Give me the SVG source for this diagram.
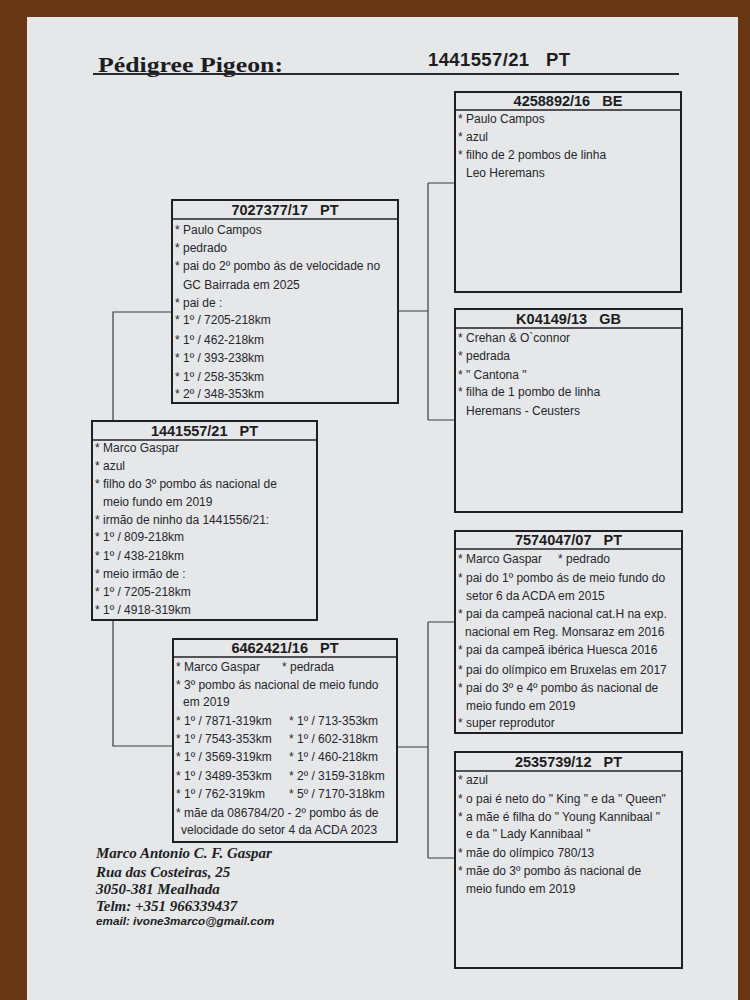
<svg xmlns="http://www.w3.org/2000/svg" width="750" height="1000" viewBox="0 0 750 1000">
<style>
.box{fill:none;stroke:#1f1f24;stroke-width:2}
.hd{stroke:#1f1f24;stroke-width:1.6}
.ht{font-family:"Liberation Sans",Arial,sans-serif;font-weight:bold;font-size:14.5px;fill:#1c1c20;text-anchor:middle}
.t{font-family:"Liberation Sans",Arial,sans-serif;font-size:12px;fill:#26262b}
.con{fill:none;stroke:#3a3a3f;stroke-width:1.2}
.addr{font-family:"Liberation Serif","Times New Roman",serif;font-weight:bold;font-style:italic;font-size:15px;fill:#1e1e22}
.mail{font-family:"Liberation Sans",Arial,sans-serif;font-weight:bold;font-style:italic;font-size:11.7px;fill:#1e1e22}
</style>
<rect x="0" y="0" width="750" height="1000" fill="#683814"/>
<rect x="27" y="17" width="711" height="990" fill="#e5e7e9"/>

<g id="title">
<text x="98" y="72" font-family="'Liberation Serif','Times New Roman',serif" font-weight="bold" font-size="21" fill="#1e1e22" textLength="185" lengthAdjust="spacingAndGlyphs">Pédigree Pigeon:</text>
<text x="428" y="66" xml:space="preserve" font-family="'Liberation Sans',Arial,sans-serif" font-weight="bold" font-size="18.5" fill="#1e1e22" textLength="142" lengthAdjust="spacing">1441557/21   PT</text>
<line x1="93" y1="74" x2="679" y2="74" stroke="#2a2a2e" stroke-width="2"/>
</g>

<g id="connectors">
<path class="con" d="M172 312 H113 V421 M113 620 V746 H173"/>
<path class="con" d="M398 311 H428 M428 183 V420 M428 183 H455 M428 420 H455"/>
<path class="con" d="M397 747 H428 M428 622 V858 M428 622 H455 M428 858 H455"/>
</g>

<g id="node-1441557">
<rect class="box" x="92" y="421" width="225" height="199"/>
<line class="hd" x1="92" y1="440" x2="317" y2="440"/>
<text class="ht" x="204.5" y="436" xml:space="preserve">1441557/21   PT</text>
<text class="t" x="95" y="452">* Marco Gaspar</text>
<text class="t" x="95" y="470">* azul</text>
<text class="t" x="95" y="488">* filho do 3º pombo ás nacional de</text>
<text class="t" x="103" y="506">meio fundo em 2019</text>
<text class="t" x="95" y="524">* irmão de ninho da 1441556/21:</text>
<text class="t" x="95" y="541">* 1º / 809-218km</text>
<text class="t" x="95" y="560">* 1º / 438-218km</text>
<text class="t" x="95" y="578">* meio irmão de :</text>
<text class="t" x="95" y="596">* 1º / 7205-218km</text>
<text class="t" x="95" y="614">* 1º / 4918-319km</text>
</g>

<g id="node-7027377">
<rect class="box" x="172" y="200" width="226" height="203"/>
<line class="hd" x1="172" y1="219" x2="398" y2="219"/>
<text class="ht" x="285" y="215" xml:space="preserve">7027377/17   PT</text>
<text class="t" x="175" y="234">* Paulo Campos</text>
<text class="t" x="175" y="252">* pedrado</text>
<text class="t" x="175" y="270">* pai do 2º pombo ás de velocidade no</text>
<text class="t" x="183" y="289">GC Bairrada em 2025</text>
<text class="t" x="175" y="307">* pai de :</text>
<text class="t" x="175" y="324">* 1º / 7205-218km</text>
<text class="t" x="175" y="344">* 1º / 462-218km</text>
<text class="t" x="175" y="362">* 1º / 393-238km</text>
<text class="t" x="175" y="381">* 1º / 258-353km</text>
<text class="t" x="175" y="398">* 2º / 348-353km</text>
</g>

<g id="node-6462421">
<rect class="box" x="173" y="639" width="224" height="203"/>
<line class="hd" x1="173" y1="657" x2="397" y2="657"/>
<text class="ht" x="285" y="653" xml:space="preserve">6462421/16   PT</text>
<text class="t" x="176" y="671">* Marco Gaspar</text>
<text class="t" x="282" y="671">* pedrada</text>
<text class="t" x="176" y="689">* 3º pombo ás nacional de meio fundo</text>
<text class="t" x="183" y="706">em 2019</text>
<text class="t" x="176" y="725">* 1º / 7871-319km</text>
<text class="t" x="289" y="725">* 1º / 713-353km</text>
<text class="t" x="176" y="743">* 1º / 7543-353km</text>
<text class="t" x="289" y="743">* 1º / 602-318km</text>
<text class="t" x="176" y="761">* 1º / 3569-319km</text>
<text class="t" x="289" y="761">* 1º / 460-218km</text>
<text class="t" x="176" y="780">* 1º / 3489-353km</text>
<text class="t" x="289" y="780">* 2º / 3159-318km</text>
<text class="t" x="176" y="798">* 1º / 762-319km</text>
<text class="t" x="289" y="798">* 5º / 7170-318km</text>
<text class="t" x="176" y="817">* mãe da 086784/20 - 2º pombo ás de</text>
<text class="t" x="181" y="834">velocidade do setor 4 da ACDA 2023</text>
</g>

<g id="node-4258892">
<rect class="box" x="455" y="92" width="226" height="200"/>
<line class="hd" x1="455" y1="110" x2="681" y2="110"/>
<text class="ht" x="568" y="106" xml:space="preserve">4258892/16   BE</text>
<text class="t" x="458" y="123">* Paulo Campos</text>
<text class="t" x="458" y="141">* azul</text>
<text class="t" x="458" y="159">* filho de 2 pombos de linha</text>
<text class="t" x="466" y="177">Leo Heremans</text>
</g>

<g id="node-K04149">
<rect class="box" x="455" y="309" width="227" height="203"/>
<line class="hd" x1="455" y1="328" x2="682" y2="328"/>
<text class="ht" x="568.5" y="324" xml:space="preserve">K04149/13   GB</text>
<text class="t" x="458" y="342">* Crehan &amp; O`connor</text>
<text class="t" x="458" y="360">* pedrada</text>
<text class="t" x="458" y="379">* " Cantona "</text>
<text class="t" x="458" y="396">* filha de 1 pombo de linha</text>
<text class="t" x="466" y="415">Heremans - Ceusters</text>
</g>

<g id="node-7574047">
<rect class="box" x="455" y="531" width="227" height="202"/>
<line class="hd" x1="455" y1="549" x2="682" y2="549"/>
<text class="ht" x="568.5" y="545" xml:space="preserve">7574047/07   PT</text>
<text class="t" x="458" y="563">* Marco Gaspar</text>
<text class="t" x="558" y="563">* pedrado</text>
<text class="t" x="458" y="582">* pai do 1º pombo ás de meio fundo do</text>
<text class="t" x="466" y="600">setor 6 da ACDA em 2015</text>
<text class="t" x="458" y="618">* pai da campeã nacional cat.H na exp.</text>
<text class="t" x="465" y="636">nacional em Reg. Monsaraz em 2016</text>
<text class="t" x="458" y="654">* pai da campeã ibérica Huesca 2016</text>
<text class="t" x="458" y="674">* pai do olímpico em Bruxelas em 2017</text>
<text class="t" x="458" y="692">* pai do 3º e 4º pombo ás nacional de</text>
<text class="t" x="466" y="710">meio fundo em 2019</text>
<text class="t" x="458" y="727">* super reprodutor</text>
</g>

<g id="node-2535739">
<rect class="box" x="455" y="752" width="227" height="216"/>
<line class="hd" x1="455" y1="771" x2="682" y2="771"/>
<text class="ht" x="568.5" y="767" xml:space="preserve">2535739/12   PT</text>
<text class="t" x="458" y="784">* azul</text>
<text class="t" x="458" y="803">* o pai é neto do " King " e da " Queen"</text>
<text class="t" x="458" y="821">* a mãe é filha do " Young Kannibaal "</text>
<text class="t" x="466" y="838">e da " Lady Kannibaal "</text>
<text class="t" x="458" y="857">* mãe do olímpico 780/13</text>
<text class="t" x="458" y="875">* mãe do 3º pombo ás nacional de</text>
<text class="t" x="466" y="893">meio fundo em 2019</text>
</g>

<g id="footer">
<text class="addr" x="96" y="858">Marco Antonio C. F. Gaspar</text>
<text class="addr" x="96" y="877">Rua das Costeiras, 25</text>
<text class="addr" x="96" y="894">3050-381 Mealhada</text>
<text class="addr" x="96" y="911">Telm: +351 966339437</text>
<text class="mail" x="96" y="925">email: ivone3marco@gmail.com</text>
</g>
</svg>
